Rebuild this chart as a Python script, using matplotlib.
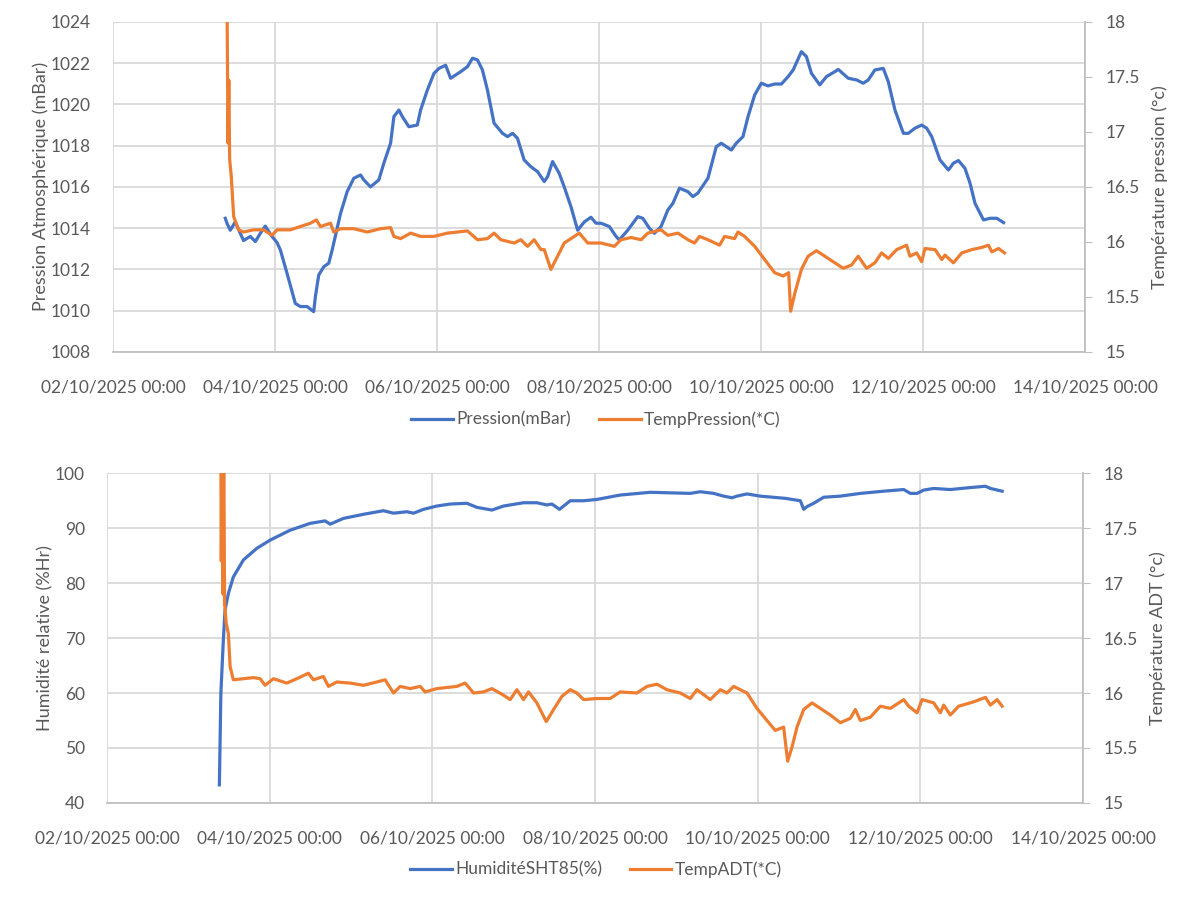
import numpy as np
import matplotlib
matplotlib.use('Agg')
import matplotlib.pyplot as plt
import matplotlib.dates as mdates

plt.rcParams['font.family'] = ['Lato', 'DejaVu Sans']

# temps en jours depuis le 02/10/2025 00:00
jours_p = [1.386, 1.407, 1.448, 1.509, 1.612, 1.695, 1.757, 1.819, 1.880, 1.963, 2.025, 2.066,
           2.149, 2.251, 2.313, 2.396, 2.478, 2.499, 2.540, 2.602, 2.664, 2.706, 2.808, 2.891,
           2.973, 3.056, 3.097, 3.179, 3.282, 3.344, 3.427, 3.468, 3.530, 3.572, 3.653, 3.757,
           3.798, 3.881, 3.963, 4.025, 4.107, 4.169, 4.231, 4.293, 4.376, 4.438, 4.500, 4.561,
           4.623, 4.705, 4.809, 4.871, 4.933, 4.994, 5.076, 5.159, 5.242, 5.324, 5.366, 5.427,
           5.509, 5.571, 5.654, 5.737, 5.818, 5.901, 5.963, 6.025, 6.128, 6.211, 6.251, 6.355,
           6.479, 6.541, 6.622, 6.684, 6.767, 6.850, 6.912, 6.994, 7.098, 7.160, 7.221, 7.345,
           7.448, 7.510, 7.634, 7.695, 7.778, 7.840, 7.922, 8.004, 8.087, 8.169, 8.252, 8.335,
           8.397, 8.499, 8.561, 8.623, 8.726, 8.809, 8.912, 8.954, 9.077, 9.180, 9.263, 9.325,
           9.406, 9.510, 9.572, 9.654, 9.758, 9.820, 9.901, 9.984, 10.046, 10.108, 10.210,
           10.314, 10.376, 10.438, 10.519, 10.581, 10.643, 10.747, 10.829, 10.912, 10.995]
pression = [1014.48, 1014.24, 1013.9, 1014.3, 1013.4, 1013.6, 1013.35, 1013.75, 1014.1, 1013.6,
            1013.3, 1012.95, 1011.8, 1010.35, 1010.2, 1010.2, 1009.95, 1010.7, 1011.73, 1012.13,
            1012.3, 1012.95, 1014.7, 1015.77, 1016.42, 1016.58, 1016.34, 1016.0, 1016.34, 1017.15,
            1018.12, 1019.41, 1019.73, 1019.41, 1018.92, 1019.0, 1019.73, 1020.7, 1021.51, 1021.75,
            1021.9, 1021.27, 1021.43, 1021.59, 1021.83, 1022.24, 1022.16, 1021.67, 1020.7, 1019.09,
            1018.6, 1018.44, 1018.6, 1018.36, 1017.31, 1016.98, 1016.74, 1016.26, 1016.5, 1017.23,
            1016.66, 1016.0, 1015.04, 1013.9, 1014.3, 1014.53, 1014.24, 1014.24, 1014.08, 1013.6,
            1013.43, 1013.9, 1014.56, 1014.48, 1014.0, 1013.75, 1014.08, 1014.88, 1015.2, 1015.94,
            1015.77, 1015.53, 1015.7, 1016.42, 1017.95, 1018.12, 1017.79, 1018.12, 1018.44, 1019.41,
            1020.46, 1021.03, 1020.9, 1020.99, 1020.99, 1021.35, 1021.67, 1022.56, 1022.32, 1021.51,
            1020.95, 1021.35, 1021.59, 1021.7, 1021.27, 1021.19, 1021.03, 1021.19, 1021.67, 1021.75,
            1021.1, 1019.73, 1018.6, 1018.6, 1018.85, 1019.0, 1018.85, 1018.44, 1017.31, 1016.82,
            1017.15, 1017.28, 1016.9, 1016.18, 1015.2, 1014.4, 1014.48, 1014.48, 1014.27]

jours_tp = [1.400, 1.420, 1.430, 1.440, 1.460, 1.490, 1.550, 1.612, 1.736, 1.859, 1.963, 2.025,
            2.190, 2.313, 2.437, 2.511, 2.561, 2.685, 2.725, 2.808, 2.973, 3.139, 3.303, 3.427,
            3.468, 3.551, 3.674, 3.798, 3.963, 4.128, 4.376, 4.500, 4.623, 4.705, 4.788, 4.952,
            5.035, 5.118, 5.200, 5.283, 5.324, 5.406, 5.489, 5.571, 5.695, 5.757, 5.861, 6.025,
            6.190, 6.272, 6.396, 6.520, 6.603, 6.767, 6.850, 6.974, 7.098, 7.180, 7.241, 7.345,
            7.489, 7.551, 7.674, 7.716, 7.798, 7.922, 8.045, 8.169, 8.273, 8.342, 8.367, 8.417,
            8.499, 8.582, 8.685, 8.788, 8.912, 9.015, 9.118, 9.201, 9.304, 9.406, 9.489, 9.572,
            9.675, 9.798, 9.839, 9.922, 9.984, 10.025, 10.149, 10.232, 10.272, 10.376, 10.479,
            10.603, 10.726, 10.809, 10.850, 10.933, 11.007]
temp_pression = [19.0, 16.9, 17.47, 16.75, 16.6, 16.23, 16.11, 16.09, 16.11, 16.11, 16.06, 16.11,
                 16.11, 16.14, 16.17, 16.2, 16.14, 16.17, 16.09, 16.12, 16.12, 16.09, 16.12, 16.13,
                 16.05, 16.03, 16.08, 16.05, 16.05, 16.08, 16.1, 16.02, 16.03, 16.08, 16.02, 15.99,
                 16.02, 15.96, 16.02, 15.93, 15.93, 15.75, 15.87, 15.99, 16.05, 16.08, 15.99, 15.99,
                 15.96, 16.02, 16.04, 16.02, 16.08, 16.11, 16.06, 16.08, 16.02, 15.99, 16.05, 16.02,
                 15.97, 16.05, 16.03, 16.09, 16.05, 15.96, 15.84, 15.72, 15.69, 15.72, 15.37, 15.53,
                 15.75, 15.87, 15.92, 15.87, 15.81, 15.76, 15.79, 15.87, 15.76, 15.81, 15.9, 15.85,
                 15.93, 15.97, 15.87, 15.9, 15.82, 15.94, 15.93, 15.84, 15.88, 15.81, 15.9,
                 15.93, 15.95, 15.97, 15.91, 15.94, 15.9]

jours_h = [1.381, 1.399, 1.430, 1.451, 1.492, 1.553, 1.677, 1.841, 2.005, 2.251, 2.497, 2.681,
           2.743, 2.906, 3.153, 3.398, 3.522, 3.686, 3.768, 3.891, 4.055, 4.219, 4.424, 4.547,
           4.732, 4.875, 5.121, 5.285, 5.408, 5.470, 5.563, 5.695, 5.859, 6.023, 6.310, 6.679,
           7.171, 7.294, 7.458, 7.581, 7.684, 7.745, 7.868, 8.032, 8.339, 8.422, 8.524, 8.565,
           8.606, 8.688, 8.811, 9.016, 9.262, 9.549, 9.795, 9.877, 9.959, 10.041, 10.164, 10.369,
           10.574, 10.800, 10.861, 11.005]
humidite = [43.3, 59.9, 69.6, 75.1, 78.1, 81.1, 84.2, 86.3, 87.8, 89.6, 90.85, 91.3,
            90.7, 91.75, 92.5, 93.15, 92.7, 92.96, 92.7, 93.4, 94.0, 94.36, 94.5, 93.76,
            93.27, 94.0, 94.6, 94.6, 94.2, 94.36, 93.4, 94.96, 94.96, 95.2, 96.0, 96.5,
            96.3, 96.6, 96.3, 95.8, 95.5, 95.8, 96.2, 95.8, 95.4, 95.2, 94.96, 93.4,
            93.9, 94.5, 95.6, 95.8, 96.3, 96.7, 97.0, 96.3, 96.3, 96.9, 97.2, 97.0,
            97.3, 97.6, 97.2, 96.7]

jours_ta = [1.395, 1.405, 1.415, 1.425, 1.435, 1.445, 1.451, 1.464, 1.492, 1.513, 1.553, 1.677,
            1.799, 1.882, 1.943, 2.046, 2.210, 2.333, 2.476, 2.538, 2.660, 2.722, 2.825, 2.989,
            3.153, 3.317, 3.419, 3.522, 3.604, 3.727, 3.850, 3.911, 4.055, 4.301, 4.403, 4.506,
            4.629, 4.732, 4.875, 4.957, 5.039, 5.121, 5.182, 5.285, 5.400, 5.490, 5.593, 5.695,
            5.777, 5.859, 6.023, 6.187, 6.310, 6.515, 6.638, 6.761, 6.884, 7.048, 7.171, 7.253,
            7.417, 7.540, 7.622, 7.704, 7.868, 7.991, 8.114, 8.216, 8.319, 8.368, 8.422, 8.483,
            8.565, 8.668, 8.770, 8.893, 9.016, 9.139, 9.200, 9.262, 9.385, 9.508, 9.631, 9.795,
            9.856, 9.959, 10.021, 10.164, 10.246, 10.287, 10.369, 10.471, 10.656, 10.800, 10.861,
            10.943, 11.005]
temp_adt = [19.0, 17.2, 18.6, 16.9, 18.3, 16.8, 16.78, 16.64, 16.54, 16.24, 16.12, 16.13,
            16.14, 16.13, 16.07, 16.13, 16.09, 16.13, 16.18, 16.12, 16.15, 16.06, 16.1, 16.09,
            16.07, 16.1, 16.12, 16.0, 16.06, 16.04, 16.06, 16.01, 16.04, 16.06, 16.09, 16.0,
            16.01, 16.04, 15.98, 15.94, 16.03, 15.94, 16.01, 15.91, 15.74, 15.85, 15.97, 16.03,
            16.0, 15.94, 15.95, 15.95, 16.01, 16.0, 16.06, 16.08, 16.03, 16.0, 15.95, 16.03,
            15.94, 16.03, 16.0, 16.06, 16.0, 15.86, 15.75, 15.66, 15.69, 15.38, 15.51, 15.69,
            15.85, 15.91, 15.86, 15.8, 15.73, 15.77, 15.85, 15.75, 15.78, 15.88, 15.86, 15.94,
            15.88, 15.82, 15.94, 15.91, 15.82, 15.89, 15.8, 15.88, 15.92, 15.96, 15.89,
            15.94, 15.88]

debut = np.datetime64('2025-10-02T00:00')
fin = np.datetime64('2025-10-14T00:00')


def en_dates(jours):
    minutes = np.round(np.array(jours) * 1440).astype(int)
    return debut + minutes.astype('timedelta64[m]')


BLEU = '#4472C4'
ORANGE = '#ED7D31'
GRIS = '#595959'
GRILLE = '#D9D9D9'
FS = 12.5

fig = plt.figure(figsize=(11.92, 9), dpi=100)


def panneau(rect, t1, y1, lab1, ylim1, yt1, t2, y2, lab2, ytl, ytr, leg_y):
    ax = fig.add_axes(rect)
    ax2 = ax.twinx()
    l1, = ax.plot(en_dates(t1), y1, color=BLEU, lw=2.3, label=lab1, zorder=3)
    l2, = ax2.plot(en_dates(t2), y2, color=ORANGE, lw=2.3, label=lab2, zorder=3)
    ax.set_xlim(debut, fin)
    ax.set_ylim(*ylim1)
    ax.set_yticks(yt1)
    ax2.set_ylim(15, 18)
    ax2.set_yticks([15, 15.5, 16, 16.5, 17, 17.5, 18])
    ax2.set_yticklabels(['15', '15.5', '16', '16.5', '17', '17.5', '18'])
    ax.xaxis.set_major_locator(mdates.DayLocator(interval=2))
    ax.xaxis.set_major_formatter(mdates.DateFormatter('%d/%m/%Y %H:%M'))
    ax.grid(True, color=GRILLE, lw=1.3)
    ax.set_axisbelow(True)
    for a in (ax, ax2):
        for s in a.spines.values():
            s.set_visible(False)
    ax2.spines['right'].set_visible(True)
    ax2.spines['right'].set_color('#BFBFBF')
    ax.spines['bottom'].set_visible(True)
    ax.spines['bottom'].set_color('#BFBFBF')
    ax.spines['bottom'].set_linewidth(1.3)
    ax2.spines['right'].set_linewidth(1.3)
    ax.tick_params(axis='y', length=0, pad=16, labelsize=FS, labelcolor=GRIS)
    ax.tick_params(axis='x', length=0, pad=20, labelsize=FS, labelcolor=GRIS)
    ax2.tick_params(axis='y', length=5, color='#BFBFBF', pad=10, labelsize=FS, labelcolor=GRIS)
    ax.set_ylabel(ytl, fontsize=13, color=GRIS, labelpad=1)
    ax2.set_ylabel(ytr, fontsize=13, color=GRIS, labelpad=8)
    fig.legend(handles=[l1, l2], loc='center', bbox_to_anchor=(0.5, leg_y), ncol=2,
               frameon=False, fontsize=FS, labelcolor=GRIS, handlelength=2.4,
               columnspacing=1.6, handletextpad=0.2)
    return ax


panneau([0.0948, 0.609, 0.8154, 0.3666], jours_p, pression, 'Pression(mBar)', (1008, 1024),
        range(1008, 1025, 2), jours_tp, temp_pression, 'TempPression(*C)',
        'Pression Atmosphérique (mBar)', 'Température pression (°c)', 0.534)

panneau([0.0898, 0.1078, 0.8188, 0.3666], jours_h, humidite, 'HumiditéSHT85(%)', (40, 100),
        range(40, 101, 10), jours_ta, temp_adt, 'TempADT(*C)',
        'Humidité relative (%Hr)', 'Température ADT (°c)', 0.034)

fig.savefig('out.png', dpi=100)
